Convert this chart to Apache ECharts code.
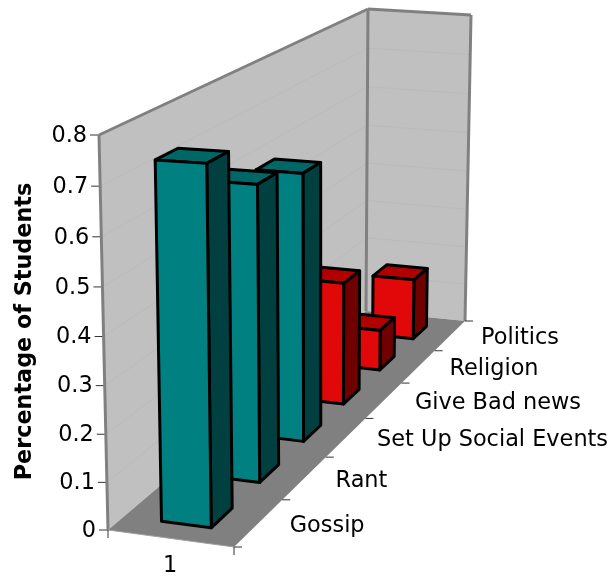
<!DOCTYPE html>
<html>
<head>
<meta charset="utf-8">
<style>
  html, body { margin: 0; padding: 0; background: #fff; }
  #main { width: 614px; height: 577px; }
</style>
<script src="https://cdn.jsdelivr.net/npm/echarts@6/dist/echarts.min.js"></script>
</head>
<body>
<div id="main"></div>
<script>
var categories = ["Gossip", "Rant", "Set Up Social Events", "Give Bad news", "Religion", "Politics"];
var values = [0.74, 0.64, 0.605, 0.29, 0.1, 0.155];
var yTicks = [0, 0.1, 0.2, 0.3, 0.4, 0.5, 0.6, 0.7, 0.8];
var seriesNames = ["1"];

var font = "DejaVu Sans";
var yMax = 0.8;

// corners of the box on the page: [left/right][bottom/top] at front and back
var box = {
  front: { lb: [108, 530], lt: [99, 135], rb: [234, 547], rt: [230, 143] },
  back: { lb: [366, 311], lt: [368, 9], rb: [465, 321], rt: [471, 15] }
};
var depthPull = 0.32; // perspective: slots get shorter toward the back
var heightPull = 0.04; // same thing upward, the gridlines spread near the top

function mix(a, b, t) {
  return [a[0] + (b[0] - a[0]) * t, a[1] + (b[1] - a[1]) * t];
}

// x: 0..1 across, v: 0..1 up, d: 0..1 into the picture
function project(x, v, d) {
  var dd = d * (1 + depthPull) / (1 + depthPull * d);
  var vv = v * (1 - heightPull) / (1 - heightPull * v);
  var f = mix(mix(box.front.lb, box.front.rb, x), mix(box.front.lt, box.front.rt, x), vv);
  var b = mix(mix(box.back.lb, box.back.rb, x), mix(box.back.lt, box.back.rt, x), vv);
  return mix(f, b, dd);
}

function poly(points, fill, stroke, width) {
  return {
    type: "polygon",
    shape: { points: points },
    style: { fill: fill, stroke: stroke || null, lineWidth: width || 0, lineJoin: "round" }
  };
}

function line(a, b, color, width) {
  return {
    type: "line",
    shape: { x1: a[0], y1: a[1], x2: b[0], y2: b[1] },
    style: { stroke: color, lineWidth: width }
  };
}

function label(text, x, y, align) {
  return {
    type: "text",
    style: {
      text: text, x: x, y: y, align: align, verticalAlign: "middle",
      fontSize: 22.4, fontFamily: font, fill: "#000"
    }
  };
}

// share of the axis height that a value takes, from the y axis scale
function share(api, value) {
  var y0 = api.coord([0, 0])[1];
  var y1 = api.coord([0, yMax])[1];
  return (y0 - api.coord([0, value])[1]) / (y0 - y1);
}

function renderFrame(params, api) {
  var kids = [];
  var wallEdge = "#808080";
  kids.push(poly([project(0, 0, 0), project(0, 1, 0), project(0, 1, 1), project(0, 0, 1)], "#c0c0c0"));
  kids.push(poly([project(0, 0, 1), project(0, 1, 1), project(1, 1, 1), project(1, 0, 1)], "#c0c0c0"));
  kids.push(poly([project(0, 0, 0), project(1, 0, 0), project(1, 0, 1), project(0, 0, 1)], "#808080"));

  yTicks.forEach(function (t) {
    var v = share(api, t);
    var p = project(0, v, 0);
    if (t > 0 && t < yMax) {
      kids.push(line(p, project(0, v, 1), "#bbbbbb", 1));
      kids.push(line(project(0, v, 1), project(1, v, 1), "#bbbbbb", 1));
    }
    kids.push(line([p[0] - 9, p[1]], p, "#333", 1));
    kids.push(label(String(t), p[0] - 12, p[1] + 1, "right"));
  });

  kids.push(line(project(0, 0, 0), project(0, 1, 0), wallEdge, 3));
  kids.push(line(project(0, 1, 0), project(0, 1, 1), wallEdge, 3));
  kids.push(line(project(0, 1, 1), project(0, 0, 1), wallEdge, 3));
  kids.push(line(project(0, 1, 1), project(1, 1, 1), wallEdge, 3));
  kids.push(line(project(1, 1, 1), project(1, 0, 1), wallEdge, 3));
  kids.push(line(project(0, 0, 0), project(1, 0, 0), "#a0a0a0", 1));

  // ticks along the floor
  [0, 1].forEach(function (x) {
    var p = project(x, 0, 0);
    kids.push(line(p, [p[0], p[1] + 8], "#333", 1));
  });
  for (var i = 0; i <= categories.length; i++) {
    var q = project(1, 0, i / categories.length);
    kids.push(line(q, [q[0] + 8, q[1]], "#333", 1));
  }
  categories.forEach(function (name, i) {
    var c = project(1, 0, (i + 0.5) / categories.length);
    kids.push(label(name, c[0] + 31, c[1] + 3, "left"));
  });
  return { type: "group", children: kids };
}

function renderBar(params, api) {
  var i = api.value(0);
  var v = share(api, api.value(1));
  var n = categories.length;
  var d0 = (i + 0.5) / n - 0.035;
  var d1 = (i + 0.5) / n + 0.035;
  var x0 = 0.3;
  var x1 = 0.7;
  var teal = i < 3;
  var stroke = "#000";
  var w = 3;
  return {
    type: "group",
    children: [
      poly([project(x0, v, d0), project(x1, v, d0), project(x1, v, d1), project(x0, v, d1)],
        teal ? "#006666" : "#b00000", stroke, w),
      poly([project(x1, 0, d0), project(x1, v, d0), project(x1, v, d1), project(x1, 0, d1)],
        teal ? "#004040" : "#700000", stroke, w),
      poly([project(x0, 0, d0), project(x0, v, d0), project(x1, v, d0), project(x1, 0, d0)],
        teal ? "#008080" : "#e00808", stroke, w)
    ]
  };
}

// back bars first so the nearer ones cover them
var barData = values.map(function (val, i) { return [i, val]; }).reverse();

var chart = echarts.init(document.getElementById("main"));
chart.setOption({
  animation: false,
  grid: { left: 108, right: 382, top: 135, bottom: 47 },
  xAxis: {
    type: "category",
    data: seriesNames,
    axisLine: { show: false },
    axisTick: { show: false },
    axisLabel: { margin: 27, fontSize: 22.4, fontFamily: font, color: "#000" }
  },
  yAxis: {
    type: "value",
    min: 0,
    max: yMax,
    interval: 0.1,
    name: "Percentage of Students",
    nameLocation: "middle",
    nameGap: 72,
    nameTextStyle: { fontSize: 22.3, fontWeight: "bold", fontFamily: font, color: "#000" },
    axisLine: { show: false },
    axisTick: { show: false },
    axisLabel: { show: false },
    splitLine: { show: false }
  },
  series: [
    { type: "custom", silent: true, z: 1, data: [[0, 0]], renderItem: renderFrame },
    { type: "custom", silent: true, z: 2, data: barData, encode: { x: 0, y: 1 }, renderItem: renderBar }
  ]
});
</script>
</body>
</html>
